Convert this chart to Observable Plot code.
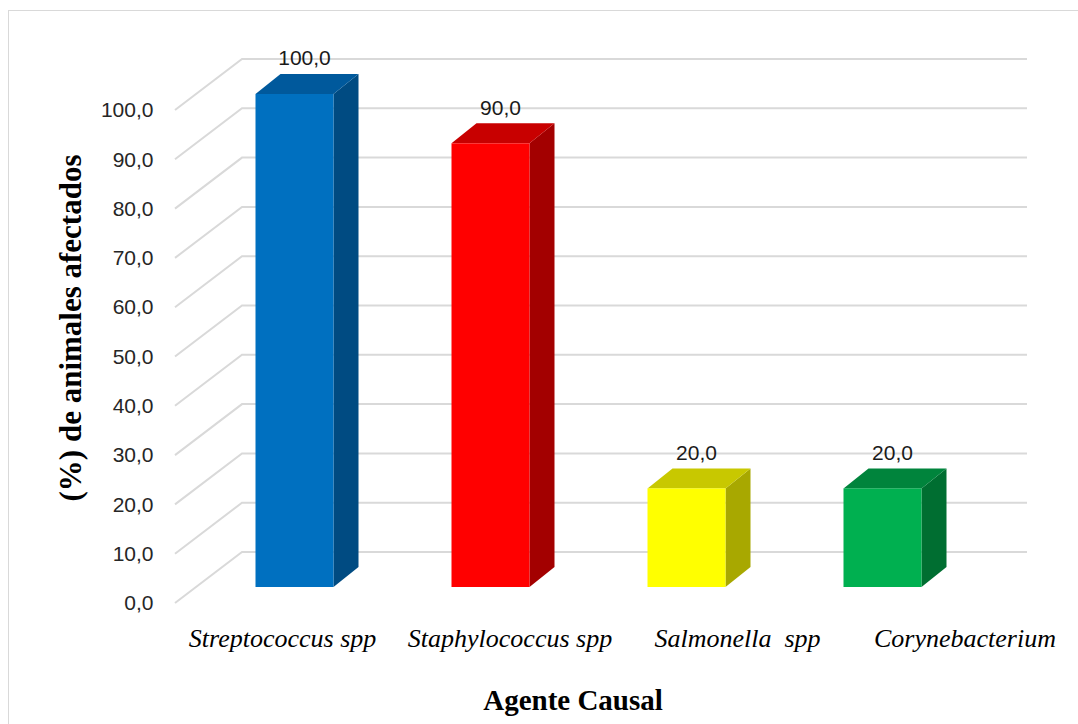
<!DOCTYPE html>
<html>
<head>
<meta charset="utf-8">
<script src="https://cdn.jsdelivr.net/npm/d3@7"></script>
<script src="https://cdn.jsdelivr.net/npm/@observablehq/plot@0.6"></script>
<style>
  body { margin: 0; background: #fff; }
  #chart { position: relative; width: 1078px; height: 724px; overflow: hidden; }
  #border { position: absolute; left: 8px; top: 10px; width: 1100px; height: 800px;
            border: 1.5px solid #d9d9d9; box-sizing: border-box; pointer-events: none; }
  #chart svg text { white-space: pre; }
</style>
</head>
<body>
<div id="chart"><div id="border"></div></div>
<script>
// ---- data ----
const categories = ["Streptococcus spp", "Staphylococcus spp", "Salmonella\u00a0 spp", "Corynebacterium"];
const values = [100, 90, 20, 20];
const yTicks = [0, 10, 20, 30, 40, 50, 60, 70, 80, 90, 100];
const frontColors = ["#0070C0", "#FF0000", "#FFFF00", "#00B050"];
const topColors = ["#00599C", "#C80000", "#C8C800", "#00843C"];
const sideColors = ["#004B82", "#A30000", "#A8A800", "#006E31"];

const fmt = d => d.toFixed(1).replace(".", ",");
const rows = categories.map((c, i) => ({c, v: values[i]}));

// 3D geometry (pixel styling)
const WALL_DX = 67, WALL_DY = -51;   // back wall offset
const BAR_DX = 20.5, BAR_DY = -16;   // bar plane offset
const BAR_W = 78;                    // bar front width
const DEP_DX = 25, DEP_DY = -20;     // bar depth

function gridMark(index, scales, vals, dims) {
  const y = scales.y;
  const x0 = dims.marginLeft, x1 = dims.width - dims.marginRight;
  const g = d3.create("svg:g").attr("fill", "none").attr("stroke", "#d9d9d9").attr("stroke-width", 2);
  for (const t of yTicks) {
    const yy = y(t);
    g.append("path").attr("d", `M${x0},${yy}L${x0 + WALL_DX},${yy + WALL_DY}L${x1 + WALL_DX},${yy + WALL_DY}`);
  }
  return g.node();
}

function barsMark(index, scales, vals, dims) {
  const {x, y} = scales;
  const bw = typeof x.bandwidth === "function" ? x.bandwidth() : (x.bandwidth || 0);
  const g = d3.create("svg:g");
  categories.forEach((c, i) => {
    const cx = x(c) + bw / 2 + BAR_DX;
    const a = cx - BAR_W / 2, b = cx + BAR_W / 2;
    const yb = y(0) + BAR_DY, yt = y(values[i]) + BAR_DY;
    g.append("path").attr("fill", sideColors[i])
      .attr("d", `M${b},${yb}L${b + DEP_DX},${yb + DEP_DY}L${b + DEP_DX},${yt + DEP_DY}L${b},${yt}Z`);
    g.append("path").attr("fill", topColors[i])
      .attr("d", `M${a},${yt}L${a + DEP_DX},${yt + DEP_DY}L${b + DEP_DX},${yt + DEP_DY}L${b},${yt}Z`);
    g.append("rect").attr("fill", frontColors[i])
      .attr("x", a).attr("y", yt).attr("width", BAR_W).attr("height", yb - yt);
  });
  return g.node();
}

const serif = "'Liberation Serif', 'Times New Roman', serif";
const sans = "'Liberation Sans', Arial, sans-serif";

const plot = Plot.plot({
  width: 1078,
  height: 724,
  marginLeft: 175,
  marginRight: 118,
  marginTop: 110,
  marginBottom: 121,
  style: {fontFamily: sans, fontSize: "21px", color: "#262626", background: "transparent", overflow: "visible"},
  x: {type: "band", domain: categories, padding: 0, axis: null},
  y: {domain: [0, 100], ticks: yTicks, tickFormat: fmt, tickSize: 0, tickPadding: 22, label: null},
  marks: [
    gridMark,
    barsMark,
    Plot.text(rows, {x: "c", y: "v", text: d => fmt(d.v), dx: 30, dy: -52,
      fontSize: 21, fontFamily: sans, fill: "#1a1a1a"}),
    ...categories.map((c, i) => Plot.text([c], {x: d => d, frameAnchor: "bottom", lineAnchor: "middle",
      dy: 35, dx: 8 + 31.5 * i,
      fontSize: 26, fontStyle: "italic", fontFamily: serif, fill: "#000"})),
    Plot.text(["(%) de animales afectados"], {frameAnchor: "left", textAnchor: "middle", lineAnchor: "middle",
      dx: -104, dy: -29, rotate: -90,
      fontSize: 31, fontWeight: "bold", fontFamily: serif, fill: "#000"}),
    Plot.text(["Agente Causal"], {frameAnchor: "bottom", lineAnchor: "middle", dx: 5, dy: 97,
      fontSize: 29, fontWeight: "bold", fontFamily: serif, fill: "#000"})
  ]
});
plot.style.position = "absolute";
plot.style.left = "0px";
plot.style.top = "0px";
document.getElementById("chart").appendChild(plot);
</script>
</body>
</html>
